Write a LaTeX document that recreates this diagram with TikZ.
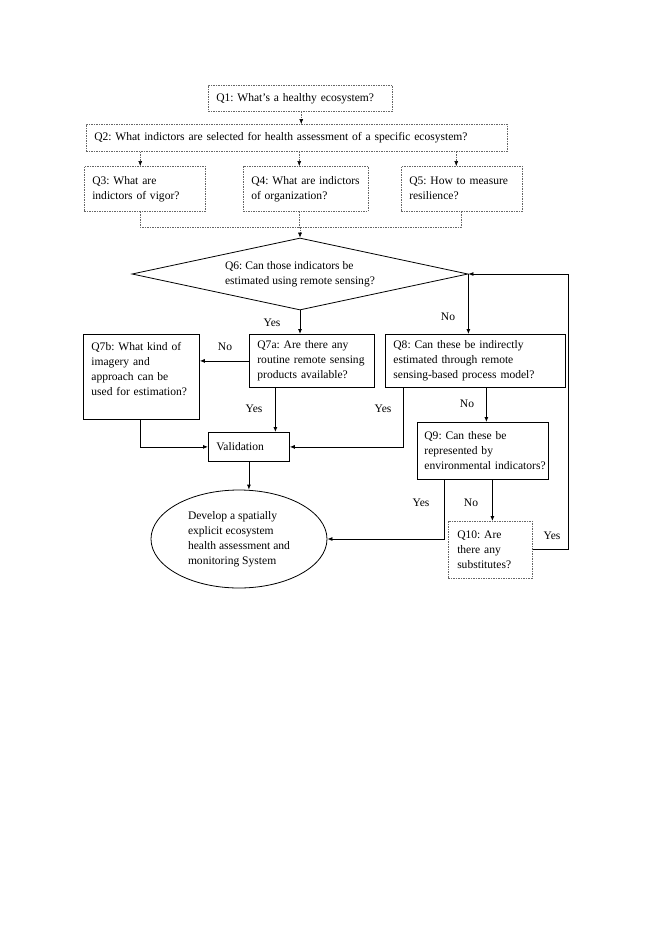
\documentclass[tikz,border=0pt]{standalone}
\usepackage{fontspec}
\setmainfont{Liberation Serif}
\usetikzlibrary{arrows.meta,shapes.geometric}
\hyphenpenalty=10000
\exhyphenpenalty=10000
\frenchspacing
\begin{document}
\begin{tikzpicture}[x=1pt,y=-1pt,
  font=\fontsize{11.55}{15}\selectfont,
  tip/.style={-{Latex[length=5pt,width=4pt]}},
  dtip/.style={-{Latex[length=5pt,width=4pt,color=black]}},
  sbox/.style={draw=black,line width=0.8pt,anchor=north west,inner xsep=8pt,inner ysep=0pt,align=left},
  dbox/.style={draw=black!60,line width=0.5pt,dash pattern=on 1.5pt off 1pt,anchor=north west,inner xsep=8pt,inner ysep=0pt,align=left},
  dline/.style={draw=black!60,line width=0.5pt,dash pattern=on 1.5pt off 1pt},
  sline/.style={draw=black,line width=0.8pt},
  lbl/.style={inner sep=0pt}
]
\useasboundingbox (0,0) rectangle (655,926);
% boxes
\node[dbox,minimum width=184pt,minimum height=26pt,text width=168pt] (Q1) at (208,85) {Q1: What’s~a~healthy~ecosystem?};
\node[dbox,minimum width=421pt,minimum height=27pt,text width=405pt] (Q2) at (86,124) {Q2: What indictors are selected for health assessment of a specific ecosystem?};
\node[dbox,minimum width=121pt,minimum height=45pt,text width=105pt] (Q3) at (84,166) {Q3:~What~are\\indictors~of~vigor?};
\node[dbox,minimum width=125pt,minimum height=45pt,text width=109pt] (Q4) at (243,166) {Q4:~What~are~indictors\\of~organization?};
\node[dbox,minimum width=121pt,minimum height=45pt,text width=105pt] (Q5) at (401,166) {Q5:~How~to~measure\\resilience?};
\node[draw=black,line width=0.8pt,diamond,aspect=4.67,minimum width=336pt,minimum height=72pt,inner sep=0pt,align=left] (Q6) at (300,274) {Q6: Can those indicators be\\estimated using remote sensing?};
\node[sbox,minimum width=125pt,minimum height=53pt,text width=109pt] (Q7a) at (249,334) {Q7a:~Are~there~any\\routine~remote~sensing\\products~available?};
\node[sbox,minimum width=116pt,minimum height=85pt,text width=100pt] (Q7b) at (83,334) {Q7b:~What~kind~of\\imagery~and\\approach~can~be\\used~for~estimation?\\\mbox{}};
\node[sbox,minimum width=180pt,minimum height=53pt,text width=164pt] (Q8) at (385,334) {Q8:~Can~these~be~indirectly\\estimated~through~remote\\sensing-based~process~model?};
\node[sbox,minimum width=81pt,minimum height=29pt,text width=65pt] (Val) at (208,432) {Validation};
\node[sbox,minimum width=131pt,minimum height=57pt,text width=117pt,inner xsep=7pt] (Q9) at (417,422) {Q9:~Can~these~be\\represented~by\\environmental~indicators?};
\node[dbox,minimum width=84pt,minimum height=57pt,text width=66pt,inner xsep=9pt] (Q10) at (448,521) {Q10:~Are\\there~any\\substitutes?};
\node[draw=black,line width=0.8pt,ellipse,minimum width=176pt,minimum height=98pt,inner sep=0pt,align=left] (Dev) at (239,539) {Develop~a~spatially\\explicit~ecosystem\\health~assessment~and\\monitoring~System};
% anchor points
\coordinate (a1) at ([xshift=1pt]Q1.south);
\coordinate (a3) at ([xshift=-4.5pt]Q3.north);
\coordinate (a4) at ([xshift=-6.5pt]Q4.north);
\coordinate (a5) at ([xshift=-5.5pt]Q5.north);
\coordinate (b3) at ([xshift=-4.5pt]Q3.south);
\coordinate (b4) at ([xshift=-6.5pt]Q4.south);
\coordinate (b5) at ([xshift=-0.5pt]Q5.south);
\coordinate (brk) at (300,227);
\coordinate (c7a) at ([xshift=-36.5pt]Q7a.south);
\coordinate (c7b) at ([xshift=-1pt]Q7b.south);
\coordinate (c8l) at ([xshift=-72pt]Q8.south);
\coordinate (c8r) at ([xshift=11pt]Q8.south);
\coordinate (c9l) at ([xshift=-38.5pt]Q9.south);
\coordinate (c9r) at ([xshift=9.5pt]Q9.south);
% dashed connectors
\draw[dline,dtip] (a1) -- (a1 |- Q2.north);
\draw[dline,dtip] (Q2.south -| a3) -- (a3);
\draw[dline,dtip] (Q2.south -| a4) -- (a4);
\draw[dline,dtip] (Q2.south -| a5) -- (a5);
\draw[dline] (b3) |- (brk);
\draw[dline] (b5) |- (brk);
\draw[dline] (b4) -- (b4 |- brk);
\draw[dline,dtip] (brk) -- (Q6.north);
% solid connectors
\draw[sline,tip] (Q6.south) -- (Q6.south |- Q7a.north);
\draw[sline,tip] (Q6.east) -- (Q6.east |- Q8.north);
\draw[sline,tip] (Q7a.west) -- (Q7b.east |- Q7a.west);
\draw[sline,tip] (c7a) -- (c7a |- Val.north);
\draw[sline,tip] (c7b) |- (Val.west);
\draw[sline,tip] (c8l) |- (Val.east);
\draw[sline,tip] (c8r) -- (c8r |- Q9.north);
\draw[sline,tip] (Val.south) -- (Val.south |- Dev.north);
\draw[sline,tip] (c9l) |- (Dev.east);
\draw[sline,tip] (c9r) -- (c9r |- Q10.north);
\draw[sline,tip] (Q10.east) -- ++(36,0) |- (Q6.east);
% labels
\node[lbl] (l1) at (272,323) {Yes};
\node[lbl] (l2) at (225,347) {No};
\node[lbl] (l3) at (448,317) {No};
\node[lbl] (l4) at (254,409) {Yes};
\node[lbl] (l5) at (383,409) {Yes};
\node[lbl] (l6) at (467,404) {No};
\node[lbl] (l7) at (421,503) {Yes};
\node[lbl] (l8) at (471,503) {No};
\node[lbl] (l9) at (552,536) {Yes};
\end{tikzpicture}
\end{document}
